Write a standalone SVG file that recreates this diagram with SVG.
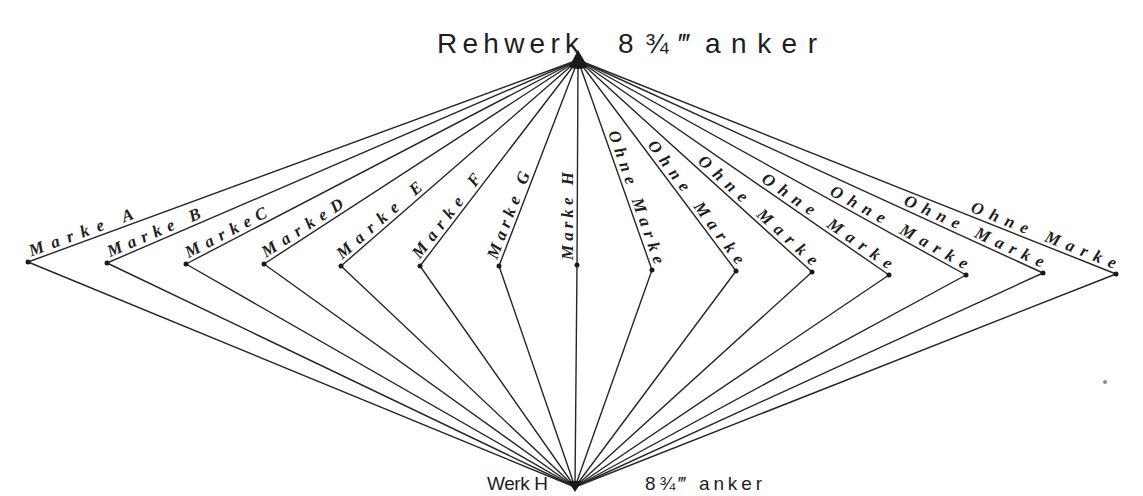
<svg xmlns="http://www.w3.org/2000/svg" width="1143" height="496" viewBox="0 0 1143 496">
<style>
.ln{stroke:#262626;stroke-width:1.4;fill:none;stroke-linecap:round}
.dot{fill:#1a1a1a}
.lbl{font-family:"Liberation Serif",serif;font-style:italic;font-weight:bold;font-size:17px;fill:#1e1e1e}
.ttl{font-family:"Liberation Sans",sans-serif;fill:#1e1e1e}
</style>
<rect width="1143" height="496" fill="#ffffff"/>
<g id="connectors">
<line class="ln" x1="578" y1="60" x2="28" y2="262"/>
<line class="ln" x1="578" y1="60" x2="107" y2="263"/>
<line class="ln" x1="578" y1="60" x2="186" y2="264"/>
<line class="ln" x1="578" y1="60" x2="264" y2="264"/>
<line class="ln" x1="578" y1="60" x2="341" y2="266"/>
<line class="ln" x1="578" y1="60" x2="420" y2="266"/>
<line class="ln" x1="578" y1="60" x2="499" y2="266"/>
<line class="ln" x1="578" y1="60" x2="577" y2="265"/>
<line class="ln" x1="578" y1="60" x2="652" y2="270"/>
<line class="ln" x1="578" y1="60" x2="736" y2="271"/>
<line class="ln" x1="578" y1="60" x2="812" y2="272"/>
<line class="ln" x1="578" y1="60" x2="889" y2="275"/>
<line class="ln" x1="578" y1="60" x2="966" y2="275"/>
<line class="ln" x1="578" y1="60" x2="1043" y2="273"/>
<line class="ln" x1="578" y1="60" x2="1116" y2="274"/>
<line class="ln" x1="28" y1="262" x2="575" y2="487"/>
<line class="ln" x1="107" y1="263" x2="575" y2="487"/>
<line class="ln" x1="186" y1="264" x2="575" y2="487"/>
<line class="ln" x1="264" y1="264" x2="575" y2="487"/>
<line class="ln" x1="341" y1="266" x2="575" y2="487"/>
<line class="ln" x1="420" y1="266" x2="575" y2="487"/>
<line class="ln" x1="499" y1="266" x2="575" y2="487"/>
<line class="ln" x1="577" y1="265" x2="575" y2="487"/>
<line class="ln" x1="652" y1="270" x2="575" y2="487"/>
<line class="ln" x1="736" y1="271" x2="575" y2="487"/>
<line class="ln" x1="812" y1="272" x2="575" y2="487"/>
<line class="ln" x1="889" y1="275" x2="575" y2="487"/>
<line class="ln" x1="966" y1="275" x2="575" y2="487"/>
<line class="ln" x1="1043" y1="273" x2="575" y2="487"/>
<line class="ln" x1="1116" y1="274" x2="575" y2="487"/>
</g>
<g id="top">
<path class="dot" d="M569 67 L578 50 L588 67 Q578 71 569 67 Z"/>
<text class="ttl" font-size="28" y="53"><tspan x="437" textLength="142" lengthAdjust="spacing">Rehwerk</tspan><tspan x="618" textLength="72" lengthAdjust="spacing">8¾‴</tspan><tspan x="705" textLength="112" lengthAdjust="spacing">anker</tspan></text>
</g>
<g id="bottom">
<path class="dot" d="M568 481 L582 481 L575 492 Z"/>
<text class="ttl" font-size="19" y="490"><tspan x="487" textLength="61" lengthAdjust="spacing">Werk H</tspan><tspan x="645" textLength="117" lengthAdjust="spacing">8¾‴ anker</tspan></text>
</g>
<g id="marke-a" transform="translate(28 262)"><circle class="dot" r="2.5"/><text class="lbl" transform="rotate(-20.2)" x="5" y="-4" textLength="110" lengthAdjust="spacing">Marke A</text></g>
<g id="marke-b" transform="translate(107 263)"><circle class="dot" r="2.5"/><text class="lbl" transform="rotate(-23.3)" x="5" y="-4" textLength="100" lengthAdjust="spacing">Marke B</text></g>
<g id="marke-c" transform="translate(186 264)"><circle class="dot" r="2.5"/><text class="lbl" transform="rotate(-27.5)" x="5" y="-4" textLength="90" lengthAdjust="spacing">MarkeC</text></g>
<g id="marke-d" transform="translate(264 264)"><circle class="dot" r="2.5"/><text class="lbl" transform="rotate(-33)" x="5" y="-4" textLength="94" lengthAdjust="spacing">MarkeD</text></g>
<g id="marke-e" transform="translate(341 266)"><circle class="dot" r="2.5"/><text class="lbl" transform="rotate(-41)" x="5" y="-4" textLength="108" lengthAdjust="spacing">Marke E</text></g>
<g id="marke-f" transform="translate(420 266)"><circle class="dot" r="2.5"/><text class="lbl" transform="rotate(-52.5)" x="5" y="-4" textLength="102" lengthAdjust="spacing">Marke F</text></g>
<g id="marke-g" transform="translate(499 266)"><circle class="dot" r="2.5"/><text class="lbl" transform="rotate(-69)" x="5" y="-4" textLength="92" lengthAdjust="spacing">Marke G</text></g>
<g id="marke-h" transform="translate(577 265)"><circle class="dot" r="2.5"/><text class="lbl" transform="rotate(-90)" x="5" y="-4" textLength="88" lengthAdjust="spacing">Marke H</text></g>
<g id="ohne-1" transform="translate(652 270)"><circle class="dot" r="2.5"/><text class="lbl" transform="rotate(70.6)" x="-4" y="-4" text-anchor="end" textLength="140" lengthAdjust="spacing">Ohne Marke</text></g>
<g id="ohne-2" transform="translate(736 271)"><circle class="dot" r="2.5"/><text class="lbl" transform="rotate(53.2)" x="-4" y="-4" text-anchor="end" textLength="150" lengthAdjust="spacing">Ohne Marke</text></g>
<g id="ohne-3" transform="translate(812 272)"><circle class="dot" r="2.5"/><text class="lbl" transform="rotate(42.2)" x="-4" y="-4" text-anchor="end" textLength="155" lengthAdjust="spacing">Ohne Marke</text></g>
<g id="ohne-4" transform="translate(889 275)"><circle class="dot" r="2.5"/><text class="lbl" transform="rotate(34.7)" x="-4" y="-4" text-anchor="end" textLength="155" lengthAdjust="spacing">Ohne Marke</text></g>
<g id="ohne-5" transform="translate(966 275)"><circle class="dot" r="2.5"/><text class="lbl" transform="rotate(29)" x="-4" y="-4" text-anchor="end" textLength="155" lengthAdjust="spacing">Ohne Marke</text></g>
<g id="ohne-6" transform="translate(1043 273)"><circle class="dot" r="2.5"/><text class="lbl" transform="rotate(24.6)" x="-4" y="-4" text-anchor="end" textLength="152" lengthAdjust="spacing">Ohne Marke</text></g>
<g id="ohne-7" transform="translate(1116 274)"><circle class="dot" r="2.5"/><text class="lbl" transform="rotate(21.7)" x="-4" y="-4" text-anchor="end" textLength="155" lengthAdjust="spacing">Ohne Marke</text></g>
<circle cx="1105" cy="382" r="2" fill="#888"/>
</svg>
